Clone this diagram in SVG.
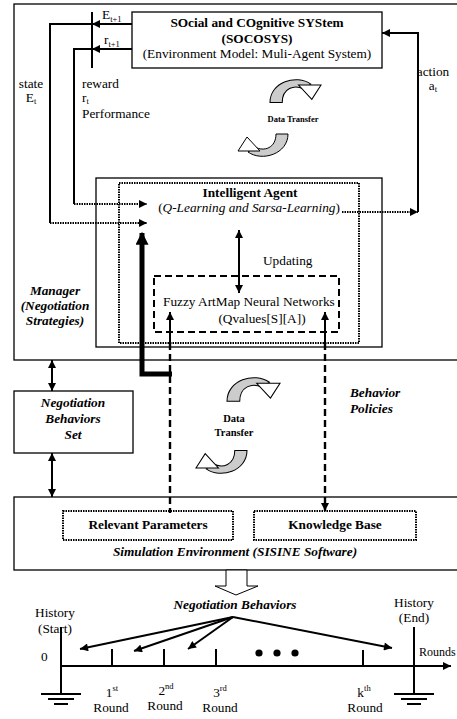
<svg xmlns="http://www.w3.org/2000/svg" width="457" height="719" viewBox="0 0 457 719">
<style>
.t{font-family:'Liberation Serif','Times New Roman',serif;font-size:13.3px;fill:#000}
.b{font-weight:bold}
.i{font-style:italic}
.box{fill:#fff;stroke:#000;stroke-width:1.3}
.dotbox{fill:none;stroke:#000;stroke-width:2;stroke-dasharray:1.5 1}
.dashbox{fill:none;stroke:#000;stroke-width:2;stroke-dasharray:7 4}
.ln{fill:none;stroke:#000;stroke-width:2}
.dot{fill:none;stroke:#000;stroke-width:2;stroke-dasharray:1.5 1}
.dash{fill:none;stroke:#000;stroke-width:2.4;stroke-dasharray:7 4}
.thick{fill:none;stroke:#000;stroke-width:5}
.sub{font-size:8.5px}
</style>
<defs>
<marker id="ah" viewBox="0 0 10 10" refX="10" refY="5" markerWidth="9" markerHeight="8" markerUnits="userSpaceOnUse" orient="auto-start-reverse"><path d="M0,0 L10,5 L0,10 Z" fill="#000"/></marker>
<marker id="ahb" viewBox="0 0 10 10" refX="9" refY="5" markerWidth="16" markerHeight="13" markerUnits="userSpaceOnUse" orient="auto"><path d="M0,0 L10,5 L0,10 Z" fill="#000"/></marker>
<g id="carrow">
<path d="M0,22 C0,2 26,-6 40,4 L33,9 C24,4 12,8 12,22 Z" fill="#ccc" stroke="#000" stroke-width="1"/>
<path d="M28,5 L50,5 L41,19 Z" fill="#fff" stroke="#000" stroke-width="1"/>
</g>
<g id="ground">
<path d="M-20,0 H20 M-13,5 H13 M-7,10 H7" fill="none" stroke="#000" stroke-width="2"/>
</g>
</defs>

<g id="manager">
<rect class="box" x="14" y="4" width="450" height="356"/>
<text class="t b i" text-anchor="middle" x="55" y="295">Manager</text>
<text class="t b i" text-anchor="middle" x="55" y="310">(Negotiation</text>
<text class="t b i" text-anchor="middle" x="55" y="325">Strategies)</text>
</g>

<g id="socosys">
<rect class="box" x="132" y="12" width="250" height="56"/>
<text class="t b" text-anchor="middle" x="257" y="27">SOcial and COgnitive SYStem</text>
<text class="t b" text-anchor="middle" x="257" y="43">(SOCOSYS)</text>
<text class="t" text-anchor="middle" x="257" y="58">(Environment Model: Muli-Agent System)</text>
</g>

<g id="data-transfer-top">
<use href="#carrow" transform="translate(270,80) scale(1.02)"/>
<text class="t b" text-anchor="middle" x="293" y="122" style="font-size:8.5px">Data Transfer</text>
<use href="#carrow" transform="translate(288,156) rotate(180) scale(1.0)"/>
</g>

<g id="intelligent-agent">
<rect class="box" x="96" y="178" width="286" height="169"/>
<rect class="dotbox" x="119" y="183" width="240" height="160"/>
<text class="t b" text-anchor="middle" x="250" y="197">Intelligent Agent</text>
<text class="t" text-anchor="middle" x="249" y="212">(<tspan class="i">Q-Learning and Sarsa-Learning</tspan>)</text>
<text class="t" x="263" y="265">Updating</text>
</g>

<g id="fuzzy-artmap">
<rect class="dashbox" x="154" y="276" width="185" height="56"/>
<text class="t" x="163" y="306">Fuzzy ArtMap Neural Networks</text>
<text class="t" text-anchor="middle" x="262" y="323">(Qvalues[S][A])</text>
</g>

<g id="negotiation-behaviors-set">
<rect class="box" x="14" y="391" width="119" height="62"/>
<text class="t b i" text-anchor="middle" x="73" y="407">Negotiation</text>
<text class="t b i" text-anchor="middle" x="73" y="423">Behaviors</text>
<text class="t b i" text-anchor="middle" x="73" y="439">Set</text>
</g>

<g id="data-transfer-mid">
<use href="#carrow" transform="translate(227,378) scale(1.06)"/>
<text class="t b" text-anchor="middle" x="234" y="422" style="font-size:10.5px">Data</text>
<text class="t b" text-anchor="middle" x="234" y="436" style="font-size:10.5px">Transfer</text>
<use href="#carrow" transform="translate(247,473) rotate(180) scale(1.02)"/>
</g>

<g id="behavior-policies">
<text class="t b i" x="350" y="397">Behavior</text>
<text class="t b i" x="350" y="413">Policies</text>
</g>

<g id="simulation-environment">
<rect class="box" x="14" y="497" width="450" height="73"/>
<text class="t b i" text-anchor="middle" x="235" y="556">Simulation Environment (SISINE Software)</text>
</g>

<g id="relevant-parameters">
<rect class="dotbox" x="63" y="511" width="170" height="29"/>
<text class="t b" text-anchor="middle" x="148" y="529">Relevant Parameters</text>
</g>

<g id="knowledge-base">
<rect class="dotbox" x="254" y="511" width="162" height="29"/>
<text class="t b" text-anchor="middle" x="335" y="529">Knowledge Base</text>
</g>

<g id="labels">
<text class="t" text-anchor="middle" x="31" y="88">state</text>
<text class="t" text-anchor="middle" x="31" y="102">E<tspan class="sub" dy="2">t</tspan></text>
<text class="t" x="82" y="88">reward</text>
<text class="t" x="82" y="102">r<tspan class="sub" dy="2">t</tspan></text>
<text class="t" x="82" y="118">Performance</text>
<text class="t" x="102" y="19">E<tspan class="sub" dy="3">t+1</tspan></text>
<text class="t" x="104" y="44">r<tspan class="sub" dy="3">t+1</tspan></text>
<text class="t" text-anchor="middle" x="433" y="76">action</text>
<text class="t" text-anchor="middle" x="433" y="90">a<tspan class="sub" dy="2">t</tspan></text>
</g>

<g id="timeline">
<text class="t b i" text-anchor="middle" x="235" y="609">Negotiation Behaviors</text>
<text class="t" text-anchor="middle" x="55" y="617">History</text>
<text class="t" text-anchor="middle" x="55" y="633">(Start)</text>
<text class="t" text-anchor="middle" x="414" y="607">History</text>
<text class="t" text-anchor="middle" x="414" y="622">(End)</text>
<text class="t" x="41" y="661">0</text>
<text class="t" x="419" y="656" style="font-size:12px">Rounds</text>
<path class="ln" d="M61,627 V694 M414,627 V694"/>
<use href="#ground" transform="translate(61,694)"/>
<use href="#ground" transform="translate(414,694)"/>
<path class="ln" d="M112,649 V666 M164,649 V666 M216,649 V666 M363,650 V666"/>
<circle cx="259" cy="653" r="3.6"/>
<circle cx="277" cy="653" r="3.6"/>
<circle cx="295" cy="653" r="3.6"/>
<text class="t" text-anchor="middle" x="112" y="697">1<tspan class="sub" dy="-6">st</tspan></text>
<text class="t" text-anchor="middle" x="166" y="695">2<tspan class="sub" dy="-6">nd</tspan></text>
<text class="t" text-anchor="middle" x="220" y="697">3<tspan class="sub" dy="-6">rd</tspan></text>
<text class="t" text-anchor="middle" x="364" y="697">k<tspan class="sub" dy="-6">th</tspan></text>
<text class="t" text-anchor="middle" x="111" y="712">Round</text>
<text class="t" text-anchor="middle" x="165" y="710">Round</text>
<text class="t" text-anchor="middle" x="220" y="712">Round</text>
<text class="t" text-anchor="middle" x="365" y="712">Round</text>
</g>

<g id="connectors">
<path class="ln" d="M92,12 V68"/>
<path class="ln" d="M132,24 H92" marker-end="url(#ah)"/>
<path class="ln" d="M92,24 H50 V223"/>
<path class="dot" d="M50,223 H147" marker-end="url(#ah)"/>
<path class="ln" d="M132,49 H92" marker-end="url(#ah)"/>
<path class="ln" d="M92,49 H74 V204"/>
<path class="dot" d="M74,204 H147" marker-end="url(#ah)"/>
<path class="dot" d="M342,212 H418" marker-end="url(#ah)"/>
<path class="ln" d="M418,212 V33 H382" stroke-width="2.4" marker-end="url(#ah)"/>
<path class="ln" d="M239,230 V293" stroke-width="2.4" marker-start="url(#ah)" marker-end="url(#ah)"/>
<path class="thick" d="M172,374 H142 V233" marker-end="url(#ahb)"/>
<path class="ln" d="M170,343 V312" marker-end="url(#ah)"/>
<path class="ln" d="M325,343 V312" marker-end="url(#ah)"/>
<path class="dash" d="M170,343 V513"/>
<path class="dash" d="M325,343 V511" marker-end="url(#ah)"/>
<path class="ln" d="M52,360 V391" stroke-width="3" marker-start="url(#ah)" marker-end="url(#ah)"/>
<path class="ln" d="M52,453 V497" stroke-width="3" marker-start="url(#ah)" marker-end="url(#ah)"/>
<polygon points="226,570 247,570 247,586 258,586 236,595 215,586 226,586" fill="#fff" stroke="#000" stroke-width="1"/>
<path class="ln" d="M233,617 L80,649" marker-end="url(#ah)"/>
<path class="ln" d="M233,617 L134,651" marker-end="url(#ah)"/>
<path class="ln" d="M233,617 L188,649" marker-end="url(#ah)"/>
<path class="ln" d="M233,617 L392,648" marker-end="url(#ah)"/>
<path class="ln" d="M61,666 H451" stroke-width="2.4" marker-end="url(#ah)"/>
</g>
</svg>
